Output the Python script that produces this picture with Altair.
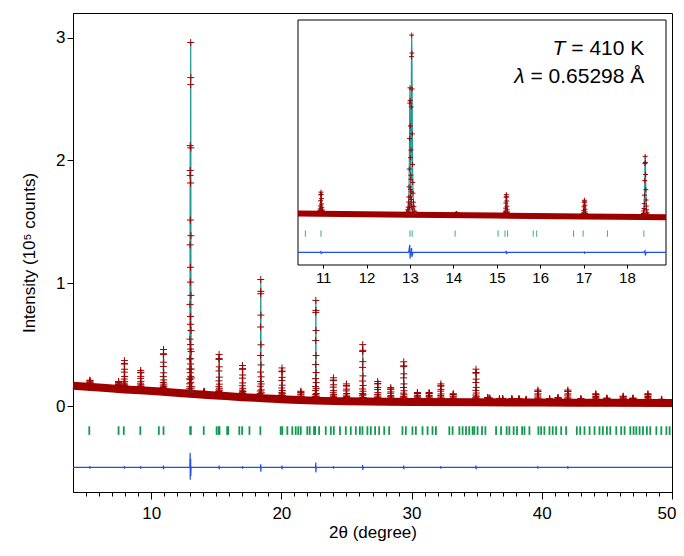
import altair as alt
import pandas as pd

# ---------------- data ----------------
X_DOMAIN = [4, 50]
Y_DOMAIN = [-0.7, 3.2]
INSET_X_DOMAIN = [10.42, 18.9]

# background (dense band of observed points)
bg_x = [4, 6, 8, 10.42, 13, 15, 17, 18.9, 20, 22, 25, 30, 35, 40, 45, 50]
bg_y = [0.165, 0.15, 0.135, 0.12, 0.1, 0.086, 0.072, 0.062, 0.055, 0.046, 0.038, 0.033, 0.03, 0.028, 0.026, 0.025]

# Bragg peaks: position, top intensity, local background
peak_pos = [5.3, 7.5, 7.95, 9.2, 10.95, 13.0, 13.04, 14.07, 15.22, 17.02, 18.42,
            20.05, 21.5, 22.65, 24.0, 25.0, 26.25, 27.4, 28.4, 29.4, 30.45, 31.35,
            32.25, 33.2, 34.95, 35.85, 36.0, 36.75, 37.0, 37.7, 38.25, 38.8, 39.7,
            40.6, 41.25, 42.0, 43.0, 44.15, 45.0, 46.25, 47.0, 48.15, 49.2]
peak_top = [0.21, 0.2, 0.37, 0.29, 0.46, 2.12, 2.96, 0.12, 0.42, 0.33, 1.03,
            0.31, 0.12, 0.86, 0.23, 0.18, 0.5, 0.2, 0.15, 0.36, 0.11, 0.11,
            0.18, 0.1, 0.3, 0.07, 0.065, 0.06, 0.06, 0.06, 0.06, 0.055, 0.13,
            0.06, 0.07, 0.13, 0.06, 0.1, 0.065, 0.08, 0.065, 0.1, 0.055]
peak_base = [0.155, 0.138, 0.135, 0.128, 0.116, 0.1, 0.1, 0.093, 0.084, 0.072, 0.064,
             0.055, 0.048, 0.044, 0.04, 0.038, 0.037, 0.035, 0.034, 0.033, 0.033, 0.032,
             0.032, 0.031, 0.03, 0.03, 0.03, 0.029, 0.029, 0.029, 0.029, 0.028, 0.028,
             0.028, 0.028, 0.027, 0.027, 0.026, 0.026, 0.026, 0.026, 0.025, 0.025]

# peak profile (offset in degrees, fraction of peak height)
shape_off = [-0.1, -0.07, -0.05, -0.04, -0.03, -0.025, -0.02, -0.015, -0.01, -0.005, 0.0,
             0.005, 0.01, 0.015, 0.02, 0.025, 0.03, 0.04, 0.05, 0.07, 0.1]
shape_frac = [0.0, 0.02, 0.04, 0.06, 0.1, 0.14, 0.22, 0.36, 0.6, 0.88, 1.0,
              0.9, 0.7, 0.45, 0.28, 0.18, 0.12, 0.07, 0.045, 0.02, 0.0]

# reflection markers (green ticks)
refl_pos = [5.25, 7.5, 7.9, 9.17, 10.59, 10.95, 13.0, 13.05, 14.04, 15.03, 15.19, 15.25,
            15.84, 15.92, 16.77, 16.99, 17.55, 18.39, 19.95, 20.07, 20.46, 20.84, 21.1,
            21.3, 21.49, 21.99, 22.18, 22.51, 22.6, 22.9, 23.41, 23.8, 24.03, 24.5, 24.95,
            25.33, 25.72, 26.03, 26.23, 26.61, 26.87, 27.2, 27.51, 27.9, 28.28, 29.3,
            29.56, 30.07, 30.33, 30.84, 31.23, 31.61, 31.87, 32.9, 33.15, 33.67, 33.92,
            34.18, 34.43, 34.69, 34.82, 35.07, 35.41, 35.67, 36.49, 36.87, 37.3, 37.51,
            37.84, 38.1, 38.49, 38.67, 39.05, 39.74, 39.95, 40.2, 40.59, 40.84, 41.1,
            41.49, 41.87, 42.69, 42.95, 43.28, 43.67, 44.05, 44.43, 44.69, 45.0, 45.26,
            45.72, 46.1, 46.36, 46.8, 47.05, 47.26, 47.51, 47.77, 48.07, 48.33, 48.8,
            49.18, 49.57, 49.82]
REFL_LEVEL = -0.2

# difference curve: baseline and spikes
DIFF_LEVEL = -0.5
diff_pos = [5.3, 7.95, 9.2, 10.95, 13.0, 13.04, 15.22, 17.02, 18.42, 20.05, 22.65, 24.0,
            26.25, 29.4, 32.25, 34.95, 39.7, 42.0]
diff_up = [-0.49, -0.49, -0.49, -0.485, -0.38, -0.43, -0.485, -0.49, -0.475, -0.485, -0.46,
           -0.49, -0.48, -0.485, -0.49, -0.485, -0.49, -0.49]
diff_dn = [-0.51, -0.51, -0.51, -0.515, -0.6, -0.57, -0.515, -0.51, -0.535, -0.515, -0.54,
           -0.51, -0.52, -0.515, -0.51, -0.515, -0.51, -0.51]

inset_ticks = [11, 12, 13, 14, 15, 16, 17, 18]

# ---------------- tables ----------------
rows = []
for i, (p, t, b) in enumerate(zip(peak_pos, peak_top, peak_base)):
    for o, f in zip(shape_off, shape_frac):
        rows.append({"peak": i, "x": round(p + o, 4), "y": b + f * (t - b)})
prof = pd.DataFrame(rows)
bg = pd.DataFrame({"x": bg_x, "y": bg_y})
refl = pd.DataFrame({"x": refl_pos, "lvl": REFL_LEVEL})
refl["y"] = refl["lvl"] + 0.035
refl["y2"] = refl["lvl"] - 0.035

drows = [{"x": X_DOMAIN[0], "y": DIFF_LEVEL}]
for p, u, d in zip(diff_pos, diff_up, diff_dn):
    drows += [{"x": p - 0.03, "y": DIFF_LEVEL}, {"x": p - 0.004, "y": u},
              {"x": p + 0.004, "y": d}, {"x": p + 0.03, "y": DIFF_LEVEL}]
drows.append({"x": X_DOMAIN[1], "y": DIFF_LEVEL})
diff = pd.DataFrame(drows).sort_values("x")

lo, hi = INSET_X_DOMAIN
prof_in = prof[(prof.x >= lo) & (prof.x <= hi)]
bg_in = bg[(bg.x >= lo) & (bg.x <= hi)]
refl_in = refl[(refl.x >= lo) & (refl.x <= hi)].copy()
refl_in["y"] = refl_in["lvl"] + 0.05
refl_in["y2"] = refl_in["lvl"] - 0.05
diff_in = diff[(diff.x > lo) & (diff.x < hi)]
diff_in = pd.concat([pd.DataFrame({"x": [lo, hi], "y": [DIFF_LEVEL, DIFF_LEVEL]}), diff_in]).sort_values("x")
frame = pd.DataFrame({"x": [lo], "x2": [hi], "y": [Y_DOMAIN[0]], "y2": [Y_DOMAIN[1]]})
labels = pd.DataFrame({
    "x": [16.58, 18.40, 15.64, 18.40],
    "y": [2.643, 2.643, 2.197, 2.197],
    "t": ["T", " = 410 K", "λ", " = 0.65298 Å"],
    "italic": [True, False, True, False],
})

# ---------------- styling ----------------
FONT = "Liberation Sans"
RED = "#9e0000"
TEAL = "#1d9a96"
GREEN = "#12994e"
GREEN_IN = "#3aab8c"
BLUE = "#1f4fe8"
CROSS = "M-1,0L1,0M0,-1L0,1"

mx = alt.Scale(domain=X_DOMAIN, nice=False, zero=False)
my = alt.Scale(domain=Y_DOMAIN, nice=False, zero=False)
x_axis = alt.Axis(
    values=list(range(5, 51)),
    labelExpr="datum.value % 10 === 0 ? datum.label : ''",
    tickSize={"condition": {"test": "datum.value % 10 === 0", "value": 7}, "value": 4},
    labelFontSize=17, titleFontSize=17, title="2θ (degree)", grid=False,
    labelPadding=6, titlePadding=3, labelFlush=True, labelFlushOffset=4,
    labelOverlap=False, orient="bottom",
)
y_axis = alt.Axis(
    values=[0, 1, 2, 3], tickSize=6, labelPadding=2, labelFontSize=17,
    title="Intensity (10⁵ counts)", titleFontSize=17, titlePadding=17, grid=False,
    orient="left",
)

ix = alt.Scale(domain=INSET_X_DOMAIN, range=[225, 593], nice=False, zero=False)
iy = alt.Scale(domain=Y_DOMAIN, range=[252, 7], nice=False, zero=False)
ix_axis = alt.Axis(
    orient="bottom", offset=-230, values=inset_ticks, domain=False, tickSize=6,
    labelPadding=2, labelFontSize=15, title=None, grid=False, labelFlush=False,
    labelOverlap=False,
)


def MX(f="x"):
    return alt.X(f"{f}:Q", scale=mx, axis=x_axis)


def MY(f="y"):
    return alt.Y(f"{f}:Q", scale=my, axis=y_axis)


def IX(f="x"):
    return alt.X(f"{f}:Q", scale=ix, axis=ix_axis)


def IY(f="y"):
    return alt.Y(f"{f}:Q", scale=iy, axis=None)


# ---------------- main panel ----------------
m_band = alt.Chart(bg).mark_line(color=RED, strokeWidth=8, interpolate="monotone").encode(x=MX(), y=MY())
m_ticks = alt.Chart(refl).mark_rule(color=GREEN, strokeWidth=1.8).encode(x=MX(), y=MY(), y2="y2:Q")
m_calc = alt.Chart(prof).mark_line(color=TEAL, strokeWidth=1.2).encode(x=MX(), y=MY(), detail="peak:N")
m_obs = alt.Chart(prof).mark_point(shape=CROSS, filled=False, size=49, strokeWidth=1, color=RED, opacity=1).encode(x=MX(), y=MY())
m_diff = alt.Chart(diff).mark_line(color=BLUE, strokeWidth=1.2).encode(x=MX(), y=MY())
main = alt.layer(m_band, m_ticks, m_calc, m_obs, m_diff)

# ---------------- inset ----------------
i_frame = alt.Chart(frame).mark_rect(fill="white", stroke="black", strokeWidth=1).encode(
    x=IX(), x2="x2:Q", y=IY(), y2="y2:Q")
i_band = alt.Chart(bg_in).mark_line(color=RED, strokeWidth=6, interpolate="monotone").encode(x=IX(), y=IY())
i_ticks = alt.Chart(refl_in).mark_rule(color=GREEN_IN, strokeWidth=1).encode(x=IX(), y=IY(), y2="y2:Q")
i_calc = alt.Chart(prof_in).mark_line(color=TEAL, strokeWidth=1.2).encode(x=IX(), y=IY(), detail="peak:N")
i_obs = alt.Chart(prof_in).mark_point(shape=CROSS, filled=False, size=25, strokeWidth=1, color=RED, opacity=1).encode(x=IX(), y=IY())
i_diff = alt.Chart(diff_in).mark_line(color=BLUE, strokeWidth=1.2).encode(x=IX(), y=IY())
i_text_it = alt.Chart(labels[labels.italic]).mark_text(
    font=FONT, fontSize=21, fontStyle="italic", align="right", baseline="alphabetic", color="black"
).encode(x=IX(), y=IY(), text="t:N")
i_text = alt.Chart(labels[~labels.italic]).mark_text(
    font=FONT, fontSize=21, align="right", baseline="alphabetic", color="black"
).encode(x=IX(), y=IY(), text="t:N")
inset = alt.layer(i_frame, i_band, i_ticks, i_calc, i_obs, i_diff, i_text_it, i_text)

chart = (
    alt.layer(main, inset)
    .resolve_scale(x="independent", y="independent")
    .properties(
        width=599, height=479,
        padding={"left": 65, "top": 5, "right": 4, "bottom": 52},
        autosize=alt.AutoSizeParams(type="none"),
    )
    .configure_view(stroke="black", strokeWidth=1)
    .configure_axis(
        domainColor="black", tickColor="black", labelColor="black", titleColor="black",
        labelFont=FONT, titleFont=FONT, titleFontWeight="normal", domainWidth=1, tickWidth=1,
    )
)

chart.save("out.html", embed_options={"renderer": "svg", "actions": False})
